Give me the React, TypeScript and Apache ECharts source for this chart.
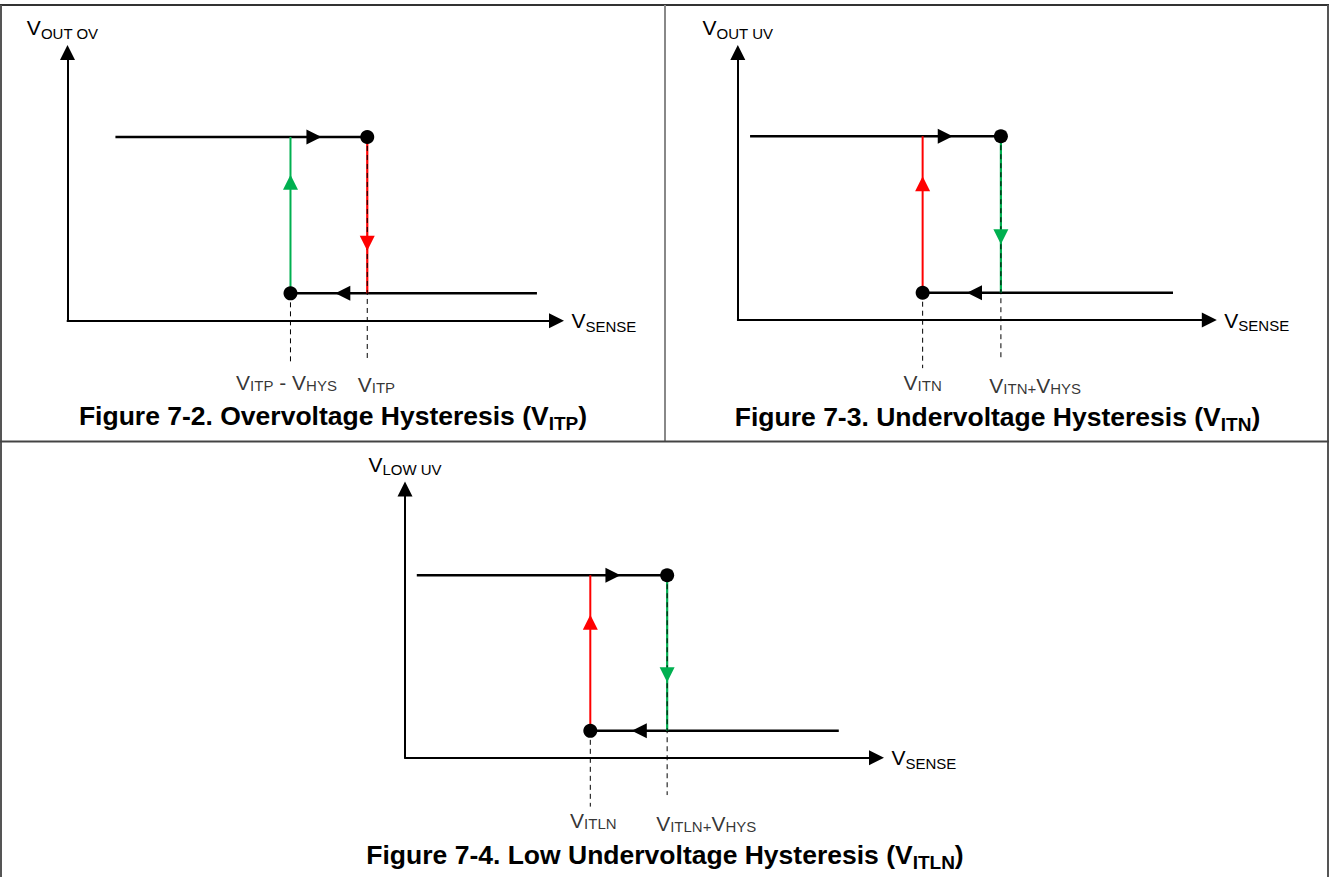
import React, { useEffect, useRef } from "react";
import * as echarts from "echarts";

const FONT = "'Liberation Sans', Arial, Helvetica, sans-serif";
const GREEN = "#00B050";
const RED = "#FF0000";
const BLACK = "#000000";

// ---------------- data (normalized axis units, 0..100 on each axis) ----------------
// Figure 7-2 Overvoltage hysteresis
const OV_LEVELS = [10.2, 68.5]; // output low, output high
const OV_THRESHOLDS = [45.6, 61.3]; // V_ITP - V_HYS, V_ITP
const OV_SWEEP = [9.8, 96.0]; // start of rising sweep, end of falling sweep
const OV_ARROW_X = [50.4, 56.3]; // arrow on high line, arrow on low line
const OV_ARROW_Y = [51.6, 28.9]; // rising-edge arrow, falling-edge arrow
const OV_DROP = [-15.3, -14.6]; // dashed guide ends (low thr, high thr)
const OV_TICKS = ["{v|V}{s|ITP}{v| - V}{s|HYS}", "{v|V}{s|ITP}"];

// Figure 7-3 Undervoltage hysteresis
const UV_LEVELS = [10.2, 68.7];
const UV_THRESHOLDS = [39.2, 55.8]; // V_ITN, V_ITN + V_HYS
const UV_SWEEP = [2.6, 92.3];
const UV_ARROW_X = [44.0, 50.2];
const UV_ARROW_Y = [50.9, 31.1];
const UV_DROP = [-18.0, -14.2];
const UV_TICKS = ["{v|V}{s|ITN}", "{v|V}{s|ITN+}{v|V}{s|HYS}"];

// Figure 7-4 Low undervoltage hysteresis
const LUV_LEVELS = [10.0, 67.9];
const LUV_THRESHOLDS = [39.3, 55.6]; // V_ITLN, V_ITLN + V_HYS
const LUV_SWEEP = [2.5, 92.0];
const LUV_ARROW_X = [44.1, 49.7];
const LUV_ARROW_Y = [50.4, 30.9];
const LUV_DROP = [-18.2, -13.9];
const LUV_TICKS = ["{v|V}{s|ITLN}", "{v|V}{s|ITLN+}{v|V}{s|HYS}"];

const LABEL_LEVEL = -23; // where threshold labels sit (below the V_SENSE axis)

// ---------------- layout / styles ----------------
const PANELS = [
  {
    levels: OV_LEVELS, thresholds: OV_THRESHOLDS, sweep: OV_SWEEP, arrowX: OV_ARROW_X, arrowY: OV_ARROW_Y,
    drop: OV_DROP, ticks: OV_TICKS, upColor: GREEN, downColor: RED,
    yName: "{v|V}{s|OUT OV}", yNamePad: [0, 10, 0, 0],
    title: "{t|Figure 7-2. Overvoltage Hysteresis (V}{ts|ITP}{t|)}", titleX: 333, titleY: 399,
    grid: { left: 67.5, top: 52.5, width: 489, height: 268.2 },
    labelAlign: ["center", "left"], labelOffset: [[-4, 0], [-9.5, 2]],
  },
  {
    levels: UV_LEVELS, thresholds: UV_THRESHOLDS, sweep: UV_SWEEP, arrowX: UV_ARROW_X, arrowY: UV_ARROW_Y,
    drop: UV_DROP, ticks: UV_TICKS, upColor: RED, downColor: GREEN,
    yName: "{v|V}{s|OUT UV}", yNamePad: [0, 0, 0, 0],
    title: "{t|Figure 7-3. Undervoltage Hysteresis (V}{ts|ITN}{t|)}", titleX: 997.5, titleY: 400,
    grid: { left: 737.8, top: 52.5, width: 471.5, height: 267.5 },
    labelAlign: ["center", "left"], labelOffset: [[0, 0], [-11.6, 3]],
  },
  {
    levels: LUV_LEVELS, thresholds: LUV_THRESHOLDS, sweep: LUV_SWEEP, arrowX: LUV_ARROW_X, arrowY: LUV_ARROW_Y,
    drop: LUV_DROP, ticks: LUV_TICKS, upColor: RED, downColor: GREEN,
    yName: "{v|V}{s|LOW UV}", yNamePad: [0, 0, 0, 0],
    title: "{t|Figure 7-4. Low Undervoltage Hysteresis (V}{ts|ITLN}{t|)}", titleX: 665, titleY: 838,
    grid: { left: 405, top: 489, width: 471.5, height: 268.7 },
    labelAlign: ["center", "left"], labelOffset: [[3, 0], [-11, 3]],
  },
];

// axis names: subscript dropped ~3-4px below the big "V"
const NAME_RICH = {
  v: { fontFamily: FONT, fontSize: 21, lineHeight: 22, verticalAlign: "middle", color: BLACK },
  s: { fontFamily: FONT, fontSize: 15, lineHeight: 26, verticalAlign: "bottom", color: BLACK },
};
// threshold labels: small caps on the same baseline
const TICK_RICH = {
  v: { fontFamily: FONT, fontSize: 21, lineHeight: 22, verticalAlign: "bottom", color: BLACK },
  s: { fontFamily: FONT, fontSize: 15, lineHeight: 18, verticalAlign: "bottom", color: BLACK },
};
// titles: subscript dropped ~5px
const TITLE_RICH = {
  t: { fontFamily: FONT, fontSize: 26.5, fontWeight: "bold", lineHeight: 28, verticalAlign: "middle", color: BLACK },
  ts: { fontFamily: FONT, fontSize: 19, fontWeight: "bold", lineHeight: 34, verticalAlign: "bottom", color: BLACK },
};

function panelSeries(i: number, p: any): any[] {
  const [lo, hi] = p.levels;
  const [tLo, tHi] = p.thresholds;
  const [s0, s1] = p.sweep;
  const common = { xAxisIndex: i, yAxisIndex: i, silent: true };
  const line = (name: string, data: number[][], color: string, width: number, type: any = "solid", z = 2) => ({
    ...common,
    type: "line",
    name,
    data,
    symbol: "none",
    showSymbol: false,
    clip: false,
    lineStyle: { color, width, type, opacity: 1 },
    z,
  });
  return [
    line("high", [[s0, hi], [tHi, hi]], BLACK, 2.5),
    line("low", [[tLo, lo], [s1, lo]], BLACK, 2.5),
    line("rise", [[tLo, lo], [tLo, hi]], p.upColor, 2),
    line("fall", [[tHi, hi], [tHi, lo]], p.downColor, 2.2),
    line("guideHigh", [[tHi, hi], [tHi, p.drop[1]]], BLACK, 1, [5, 4], 3),
    line("guideLow", [[tLo, lo], [tLo, p.drop[0]]], BLACK, 1, [5, 4], 3),
    {
      ...common,
      type: "scatter",
      data: [[tHi, hi], [tLo, lo]],
      symbol: "circle",
      symbolSize: 14,
      itemStyle: { color: BLACK, opacity: 1 },
      clip: false,
      z: 5,
    },
    {
      ...common,
      type: "scatter",
      symbol: "triangle",
      symbolSize: [15, 15],
      clip: false,
      z: 6,
      itemStyle: { opacity: 1 },
      data: [
        { value: [p.arrowX[0], hi], symbolRotate: -90, itemStyle: { color: BLACK, opacity: 1 } },
        { value: [p.arrowX[1], lo], symbolRotate: 90, itemStyle: { color: BLACK, opacity: 1 } },
        { value: [tLo, p.arrowY[0]], symbolRotate: 0, itemStyle: { color: p.upColor, opacity: 1 } },
        { value: [tHi, p.arrowY[1]], symbolRotate: 180, itemStyle: { color: p.downColor, opacity: 1 } },
      ],
    },
    {
      ...common,
      type: "scatter",
      symbolSize: 1,
      itemStyle: { color: "transparent" },
      clip: false,
      z: 7,
      data: p.ticks.map((t: string, k: number) => ({
        value: [p.thresholds[k], LABEL_LEVEL],
        label: {
          show: true,
          formatter: t,
          position: "inside",
          align: p.labelAlign[k],
          verticalAlign: "middle",
          offset: p.labelOffset[k],
          rich: TICK_RICH,
          color: BLACK,
        },
      })),
    },
  ];
}

const axisBase = {
  type: "value",
  min: 0,
  max: 100,
  axisTick: { show: false },
  axisLabel: { show: false },
  splitLine: { show: false },
};

const option: any = {
  animation: false,
  backgroundColor: "#ffffff",
  textStyle: { fontFamily: FONT },
  title: PANELS.map((p) => ({
    text: p.title,
    left: p.titleX,
    top: p.titleY,
    padding: 0,
    textAlign: "center",
    textVerticalAlign: "top",
    textStyle: { rich: TITLE_RICH, fontFamily: FONT },
  })),
  grid: PANELS.map((p) => ({ ...p.grid, containLabel: false, outerBoundsMode: "none" })),
  xAxis: PANELS.map((p, i) => ({
    ...axisBase,
    gridIndex: i,
    axisLine: {
      show: true,
      onZero: false,
      symbol: ["none", "triangle"],
      symbolSize: [15, 15],
      lineStyle: { color: BLACK, width: 2 },
    },
    name: "{v|V}{s|SENSE}",
    nameLocation: "end",
    nameGap: 15,
    nameTextStyle: { rich: NAME_RICH, align: "left", verticalAlign: "middle" },
  })),
  yAxis: PANELS.map((p, i) => ({
    ...axisBase,
    gridIndex: i,
    axisLine: {
      show: true,
      onZero: false,
      symbol: ["none", "triangle"],
      symbolSize: [15, 15],
      lineStyle: { color: BLACK, width: 2 },
    },
    name: p.yName,
    nameLocation: "end",
    nameGap: 12,
    nameTextStyle: { rich: NAME_RICH, align: "center", verticalAlign: "bottom", padding: p.yNamePad },
  })),
  graphic: [
    { type: "line", silent: true, shape: { x1: 0, y1: 5, x2: 1329, y2: 5 }, style: { stroke: "#333333", lineWidth: 2 } },
    { type: "line", silent: true, shape: { x1: 1, y1: 5, x2: 1, y2: 877 }, style: { stroke: "#555555", lineWidth: 2 } },
    { type: "line", silent: true, shape: { x1: 1328, y1: 5, x2: 1328, y2: 877 }, style: { stroke: "#555555", lineWidth: 2 } },
    { type: "line", silent: true, shape: { x1: 665, y1: 5, x2: 665, y2: 441 }, style: { stroke: "#888888", lineWidth: 2 } },
    { type: "line", silent: true, shape: { x1: 0, y1: 441.5, x2: 1329, y2: 441.5 }, style: { stroke: "#444444", lineWidth: 2 } },
  ],
  series: PANELS.flatMap((p, i) => panelSeries(i, p)),
};

export default function App() {
  const ref = useRef<HTMLDivElement>(null);
  useEffect(() => {
    document.body.style.margin = "0";
    const chart = echarts.init(ref.current as HTMLDivElement, null, { renderer: "svg" });
    chart.setOption(option);
    return () => {
      chart.dispose();
    };
  }, []);
  return (
    <div
      ref={ref}
      style={{ width: 1329, height: 877, position: "absolute", left: 0, top: 0, background: "#fff" }}
    />
  );
}
